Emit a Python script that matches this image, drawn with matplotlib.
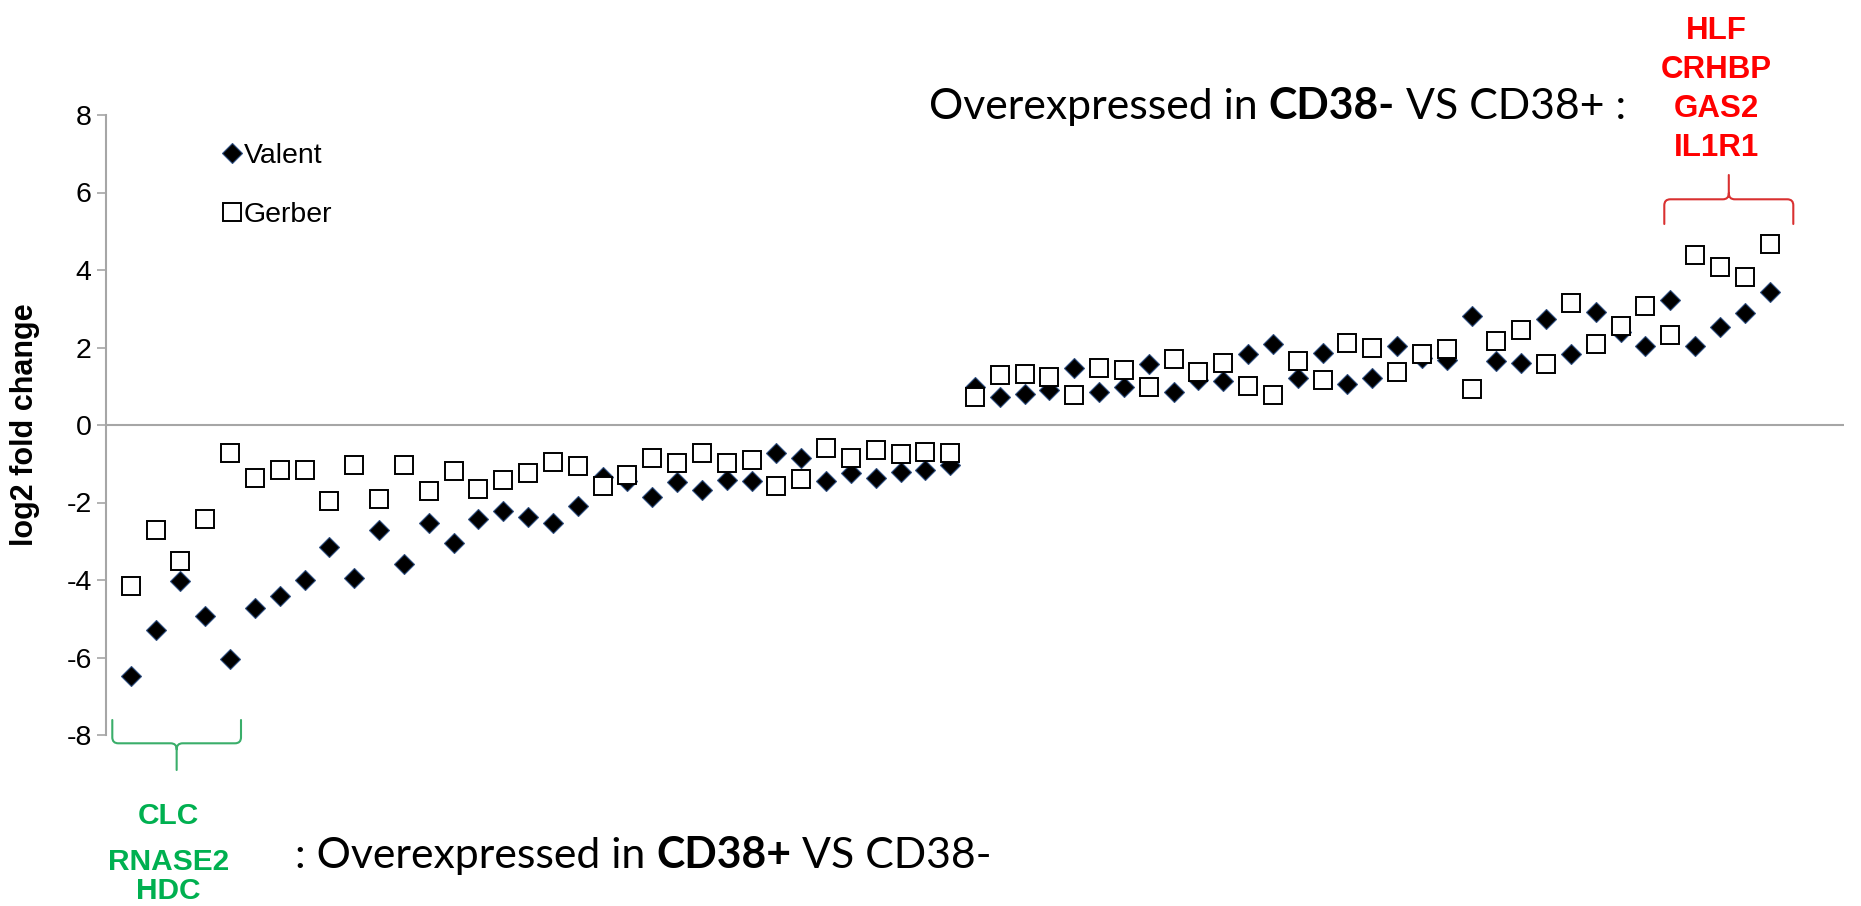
import matplotlib
matplotlib.use("Agg")
import matplotlib.pyplot as plt
from matplotlib.path import Path
from matplotlib.patches import PathPatch
from matplotlib.transforms import Affine2D
import numpy as np

# ---------------- data ----------------
valent = [-6.47, -5.28, -4.03, -4.94, -6.03, -4.72, -4.42, -4.01, -3.15, -3.94,
          -2.70, -3.59, -2.53, -3.04, -2.43, -2.22, -2.37, -2.53, -2.09, -1.33,
          -1.45, -1.87, -1.48, -1.68, -1.41, -1.44, -0.72, -0.84, -1.45, -1.25,
          -1.36, -1.22, -1.15, -1.03,
          0.97, 0.71, 0.80, 0.91, 1.47, 0.84, 0.97, 1.57, 0.84, 1.16,
          1.14, 1.83, 2.09, 1.22, 1.87, 1.05, 1.22, 2.05, 1.72, 1.68,
          2.82, 1.66, 1.61, 2.74, 1.84, 2.91, 2.40, 2.05, 3.23, 2.05,
          2.54, 2.89, 3.43]
gerber = [-4.16, -2.71, -3.51, -2.43, -0.73, -1.38, -1.15, -1.16, -1.97, -1.02,
          -1.92, -1.02, -1.71, -1.19, -1.66, -1.41, -1.23, -0.95, -1.05, -1.58,
          -1.29, -0.86, -0.99, -0.73, -0.97, -0.91, -1.58, -1.40, -0.60, -0.84,
          -0.65, -0.76, -0.69, -0.73,
          0.73, 1.29, 1.32, 1.25, 0.78, 1.47, 1.42, 0.97, 1.71, 1.38,
          1.61, 1.01, 0.78, 1.64, 1.16, 2.11, 1.98, 1.38, 1.83, 1.96,
          0.92, 2.16, 2.46, 1.58, 3.16, 2.09, 2.56, 3.08, 2.31, 4.40,
          4.07, 3.82, 4.66]
gene_rank = list(range(1, len(valent) + 1))
series_names = ["Valent", "Gerber"]
yticks = [-8, -6, -4, -2, 0, 2, 4, 6, 8]
ylabel = "log2 fold change"
up_genes = ["HLF", "CRHBP", "GAS2", "IL1R1"]
down_genes = ["CLC", "RNASE2", "HDC"]
top_caption = [("Overexpressed in", False), ("CD38-", True), ("VS CD38+ :", False)]
bottom_caption = [(": Overexpressed in", False), ("CD38+", True), ("VS CD38-", False)]

# ---------------- figure ----------------
W, H, DPI = 1861, 906, 100
plt.rcParams["axes.unicode_minus"] = False
plt.rcParams["font.family"] = ["Liberation Sans", "DejaVu Sans"]

fig = plt.figure(figsize=(W / DPI, H / DPI), dpi=DPI)
fig.patch.set_facecolor("white")

def fx(px):
    return px / W

def fy(py):
    return 1 - py / H

ax_l, ax_r, ax_t, ax_b = 106, 1844, 115, 735
ax = fig.add_axes([fx(ax_l), fy(ax_b), (ax_r - ax_l) / W, (ax_b - ax_t) / H])
ax.set_xlim(0, 70)
ax.set_ylim(-8, 8)

grey = "#a6a6a6"
ax.axhline(0, color=grey, lw=1.5, zorder=1)
ax.plot(gene_rank, valent, ls="none", marker="D", ms=10, mfc="black",
        mec="#2e4e80", mew=0.8, label=series_names[0], zorder=3)
ax.plot(gene_rank, gerber, ls="none", marker="s", ms=13.5, mfc="white",
        mec="black", mew=1.4, label=series_names[1], zorder=4)

for s in ["top", "right", "bottom"]:
    ax.spines[s].set_visible(False)
ax.spines["left"].set_color(grey)
ax.spines["left"].set_linewidth(1.5)
ax.set_xticks([])
ax.set_yticks(yticks)
ax.set_yticklabels([str(v) for v in yticks])
ax.tick_params(axis="y", direction="out", length=6.8, width=1.2, color=grey,
               pad=3.5, labelsize=20.5, labelcolor="black")

ax.set_ylabel(ylabel, fontsize=22, fontweight="bold")
ax.yaxis.label.set_verticalalignment("center")
ax.yaxis.set_label_coords((25 - ax_l) / (ax_r - ax_l), 0.5)

leg = ax.legend(loc="upper left",
                bbox_to_anchor=((220.6 - ax_l) / (ax_r - ax_l), 1 - (143 - ax_t) / (ax_b - ax_t)),
                frameon=False, fontsize=20.5, handlelength=0.8, handletextpad=0.0,
                labelspacing=1.15, borderpad=0, borderaxespad=0, numpoints=1)

# ---------------- braces ----------------
pix2fig = Affine2D().scale(1 / W, -1 / H).translate(0, 1) + fig.transFigure

def brace(xl, xr, y_end, y_h, y_tip, r, color):
    xc = (xl + xr) / 2
    s = 1 if y_tip > y_h else -1
    M, L, C = Path.MOVETO, Path.LINETO, Path.CURVE3
    verts = [(xl, y_end), (xl, y_h - s * r), (xl, y_h), (xl + r, y_h),
             (xc - r, y_h), (xc, y_h), (xc, y_h + s * r), (xc, y_tip),
             (xr, y_end), (xr, y_h - s * r), (xr, y_h), (xr - r, y_h),
             (xc + r, y_h), (xc, y_h), (xc, y_h + s * r)]
    codes = [M, L, C, C, L, C, C, L, M, L, C, C, L, C, C]
    p = PathPatch(Path(verts, codes), fill=False, edgecolor=color, lw=1.5,
                  transform=pix2fig, capstyle="round", joinstyle="round")
    fig.add_artist(p)

brace(112.3, 241.0, 720, 743.3, 770, 6, "#3aae6a")
brace(1664.3, 1793.3, 224, 199.3, 175, 6, "#d93030")

# ---------------- gene labels ----------------
for g, base in zip(up_genes, [39.3, 78.3, 116.7, 156.0]):
    fig.text(fx(1716), fy(base), g, color="#ff0000", fontsize=22.5,
             fontweight="bold", ha="center", va="baseline")
for g, base in zip(down_genes, [824, 870, 899.3]):
    fig.text(fx(168.5), fy(base), g, color="#00b050", fontsize=21.5,
             fontweight="bold", ha="center", va="baseline")

# ---------------- rich captions ----------------
renderer = fig.canvas.get_renderer()

def measure(parts, size, family):
    ws = []
    for s, b in parts:
        t = fig.text(0, 0, s, fontsize=size, family=family,
                     fontweight="bold" if b else "normal")
        ws.append(t.get_window_extent(renderer).width)
        t.remove()
    t1 = fig.text(0, 0, "x x", fontsize=size, family=family)
    t2 = fig.text(0, 0, "xx", fontsize=size, family=family)
    sp = t1.get_window_extent(renderer).width - t2.get_window_extent(renderer).width
    t1.remove(); t2.remove()
    return ws, sp

def rich_text(x_px, base_px, parts, target_w, family="Lato", size0=30):
    ws, sp = measure(parts, size0, family)
    total = sum(ws) + sp * (len(parts) - 1)
    size = size0 * target_w / total
    ws, sp = measure(parts, size, family)
    x = x_px
    for (s, b), w in zip(parts, ws):
        fig.text(fx(x), fy(base_px), s, fontsize=size, family=family,
                 fontweight="bold" if b else "normal", color="black",
                 ha="left", va="baseline")
        x += w + sp

rich_text(929, 119, top_caption, 697)
rich_text(295, 868, bottom_caption, 696)

fig.savefig("out.png", dpi=DPI, facecolor="white")
